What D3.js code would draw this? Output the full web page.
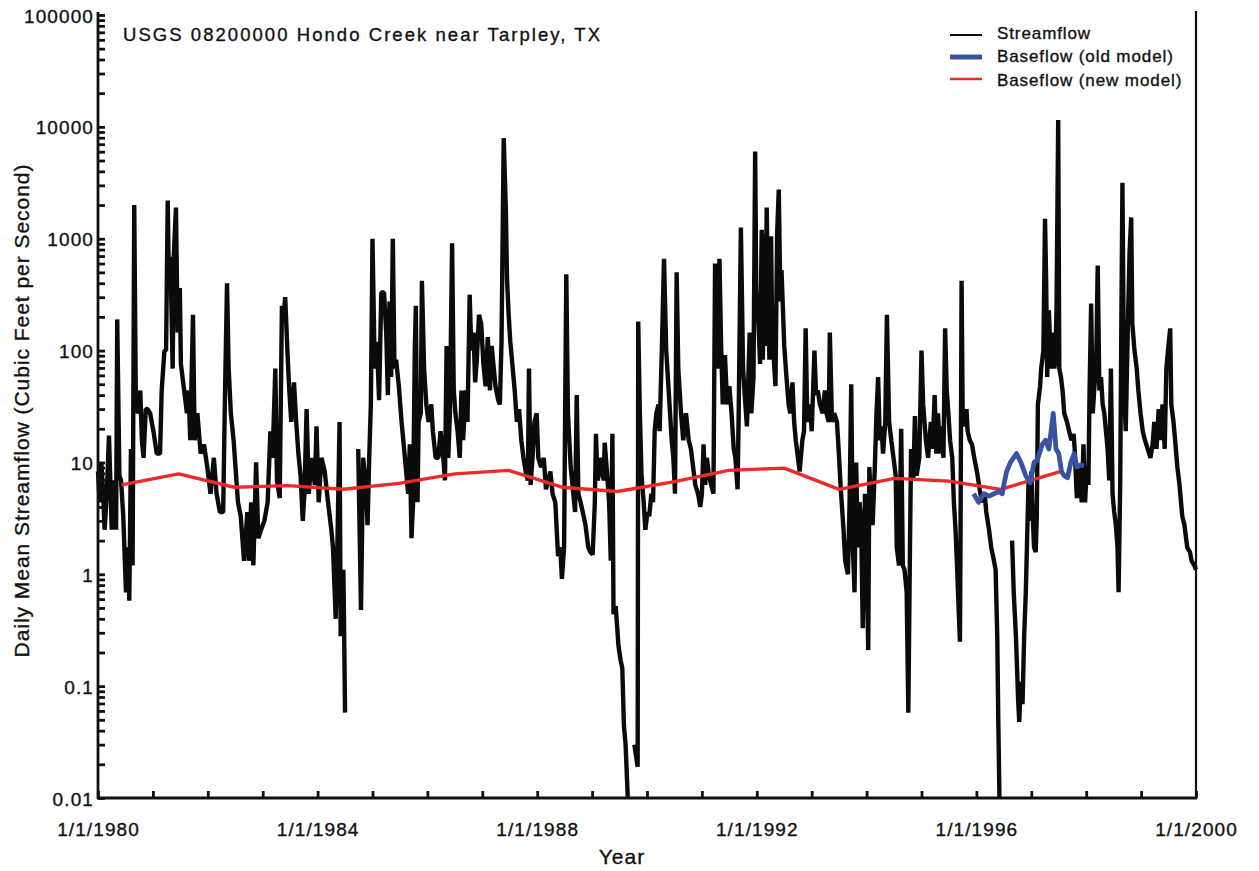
<!DOCTYPE html>
<html>
<head>
<meta charset="utf-8">
<script src="https://cdn.jsdelivr.net/npm/d3@7"></script>
<style>
  html, body { margin: 0; padding: 0; background: #fff; }
  svg { display: block; font-family: "Liberation Sans", Arial, Helvetica, sans-serif; }
  .heavy { stroke: #111; stroke-width: 0.35px; paint-order: stroke; }
</style>
</head>
<body>
<svg id="chart" width="1259" height="871"></svg>
<script>
// ---------------- DATA ----------------
const chartTitle = "USGS 08200000 Hondo Creek near Tarpley, TX";
const xTitle = "Year";
const yTitle = "Daily Mean Streamflow (Cubic Feet per Second)";
const seriesNames = ["Streamflow", "Baseflow (old model)", "Baseflow (new model)"];
const xDomain = [1980, 2000];
const yDomain = [0.01, 100000];
const xTickYears = d3.range(1980, 2001, 1);
const xLabelYears = [1980, 1984, 1988, 1992, 1996, 2000];
const yLabelValues = [0.01, 0.1, 1, 10, 100, 1000, 10000, 100000];

// [decimal year, cfs]; null = no plotted value (zero flow)
const streamflow = [
[1980.00,8.3],[1980.03,4.4],[1980.06,10],[1980.09,5.75],[1980.12,2.5],[1980.16,5.25],[1980.20,17.4],[1980.25,2.5],[1980.29,6.9],[1980.33,2.5],[1980.35,190],[1980.39,7.6],[1980.42,6.9],[1980.46,3.3],[1980.51,0.69],[1980.55,1.74],[1980.57,0.58],[1980.60,13.2],[1980.63,1.2],[1980.66,2000],[1980.69,33],[1980.73,27.5],[1980.77,44],[1980.80,15.8],[1980.83,11],[1980.87,30],[1980.90,30],[1980.95,27.5],
[1981.01,19],[1981.07,12],[1981.13,12],[1981.16,44],[1981.21,100],[1981.24,100],[1981.27,2190],[1981.29,440],[1981.32,690],[1981.36,69],[1981.38,690],[1981.42,1900],[1981.45,145],[1981.49,363],[1981.51,76],[1981.56,48],[1981.62,27.5],[1981.65,44],[1981.68,15.8],[1981.73,209],[1981.76,15.8],[1981.81,27.5],[1981.87,12],[1981.93,14.5],[1981.99,9.1],
[1982.05,5.25],[1982.11,11],[1982.16,5.25],[1982.22,3.6],[1982.28,3.6],[1982.31,33],[1982.35,400],[1982.38,69],[1982.42,27.5],[1982.47,15.8],[1982.51,8.3],[1982.55,4.4],[1982.60,3.3],[1982.66,1.32],[1982.72,3.6],[1982.75,1.32],[1982.79,4.4],[1982.83,1.2],[1982.88,10],[1982.92,2.1],[1982.97,2.5],
[1983.03,3.0],[1983.09,4.4],[1983.14,19],[1983.18,11],[1983.23,69],[1983.26,6.9],[1983.31,4.8],[1983.35,251],[1983.39,229],[1983.41,300],[1983.45,100],[1983.48,48],[1983.52,23],[1983.57,52],[1983.61,23],[1983.65,12],[1983.69,7.6],[1983.73,3.0],[1983.76,5.25],[1983.80,30],[1983.84,5.25],[1983.89,11],[1983.95,6.3],[1983.98,21],
[1984.02,4.4],[1984.07,11],[1984.13,8.3],[1984.19,4.4],[1984.25,2.5],[1984.28,1.74],[1984.33,0.4],[1984.36,1.74],[1984.40,23],[1984.42,0.28],[1984.47,1.1],[1984.50,0.058],[1984.62,null],[1984.74,13.2],[1984.79,0.48],[1984.83,11],[1984.88,6.3],[1984.91,2.75],[1984.94,11],[1984.97,33],
[1985.00,1000],[1985.04,69],[1985.08,120],[1985.12,36],[1985.16,330],[1985.21,330],[1985.25,145],[1985.28,40],[1985.31,275],[1985.34,58],[1985.37,1000],[1985.40,69],[1985.43,83],[1985.48,48],[1985.53,23],[1985.59,11],[1985.65,5.25],[1985.68,14.5],[1985.71,2.1],[1985.74,4.4],[1985.77,100],[1985.79,251],[1985.82,4.4],[1985.84,23],[1985.88,27.5],[1985.90,420],[1985.94,69],[1985.98,33],
[1986.02,23],[1986.07,33],[1986.10,19],[1986.15,11],[1986.20,11],[1986.24,19],[1986.29,11],[1986.32,6.9],[1986.35,110],[1986.38,11],[1986.41,27.5],[1986.45,910],[1986.48,44],[1986.51,27.5],[1986.55,19],[1986.59,11],[1986.62,44],[1986.65,15.8],[1986.70,44],[1986.73,23],[1986.77,316],[1986.80,100],[1986.84,145],[1986.87,52],[1986.90,83],[1986.94,209],[1986.98,174],
[1987.02,76],[1987.06,48],[1987.10,132],[1987.14,44],[1987.17,110],[1987.21,69],[1987.24,48],[1987.29,36],[1987.32,33],[1987.35,120],[1987.39,7940],[1987.43,1740],[1987.45,440],[1987.48,209],[1987.51,120],[1987.54,83],[1987.59,44],[1987.63,23],[1987.67,30],[1987.71,15.8],[1987.75,11],[1987.79,8.3],[1987.83,6.9],[1987.85,69],[1987.88,6.3],[1987.92,12],[1987.95,23],[1987.99,27.5],
[1988.02,11],[1988.07,9.1],[1988.12,11],[1988.16,5.75],[1988.20,6.9],[1988.24,8.3],[1988.28,5.25],[1988.33,4.4],[1988.38,1.45],[1988.42,1.74],[1988.45,0.91],[1988.49,1.74],[1988.51,33],[1988.53,480],[1988.56,27.5],[1988.61,9.1],[1988.65,5.75],[1988.69,3.6],[1988.72,40],[1988.75,5.25],[1988.79,4.4],[1988.83,3.6],[1988.88,2.75],[1988.93,1.74],[1988.97,1.58],
[1989.01,1.5],[1989.05,4.4],[1989.07,18],[1989.10,6.9],[1989.14,8.3],[1989.17,11],[1989.21,6.9],[1989.23,15],[1989.27,8.3],[1989.31,4.4],[1989.34,1.32],[1989.37,18],[1989.39,0.44],[1989.43,0.52],[1989.48,0.23],[1989.52,0.17],[1989.55,0.145],[1989.58,0.044],[1989.61,0.03],[1989.65,0.01],[1989.71,null],[1989.77,0.03],[1989.83,0.019],[1989.84,182],[1989.87,27.5],[1989.90,7.6],[1989.94,4.4],[1989.97,2.5],
[1990.01,3.6],[1990.04,3.3],[1990.08,5.25],[1990.11,4.4],[1990.14,19],[1990.17,27.5],[1990.21,33],[1990.23,19],[1990.27,100],[1990.31,660],[1990.35,100],[1990.39,48],[1990.42,27.5],[1990.45,15.8],[1990.48,11],[1990.51,5.25],[1990.54,500],[1990.57,69],[1990.62,27.5],[1990.66,15.8],[1990.71,27.5],[1990.76,15.8],[1990.80,13.2],[1990.85,8.3],[1990.88,6.3],[1990.93,5.25],[1990.97,4],
[1991.00,5.25],[1991.03,14.5],[1991.06,6.3],[1991.09,11],[1991.13,7.6],[1991.17,6.3],[1991.21,5.25],[1991.24,600],[1991.28,69],[1991.32,660],[1991.35,110],[1991.38,33],[1991.42,91],[1991.46,33],[1991.50,48],[1991.54,27.5],[1991.58,13.2],[1991.61,11],[1991.65,5.75],[1991.67,27.5],[1991.71,1260],[1991.75,69],[1991.78,40],[1991.82,21],[1991.87,145],[1991.90,27.5],[1991.94,58],[1991.97,6030],[1991.99,363],
[1992.03,174],[1992.06,76],[1992.09,1200],[1992.11,83],[1992.14,1100],[1992.16,110],[1992.18,1900],[1992.21,229],[1992.23,83],[1992.26,1050],[1992.28,145],[1992.31,83],[1992.34,48],[1992.37,1100],[1992.40,2750],[1992.43,275],[1992.45,525],[1992.50,110],[1992.54,58],[1992.58,33],[1992.61,27.5],[1992.65,52],[1992.68,23],[1992.71,15.8],[1992.76,10],[1992.78,8.3],[1992.83,15.8],[1992.86,19],[1992.89,158],[1992.92,23],[1992.97,33],
[1993.00,19],[1993.05,100],[1993.08,40],[1993.11,44],[1993.15,33],[1993.20,27.5],[1993.24,44],[1993.27,27.5],[1993.31,23],[1993.33,145],[1993.37,23],[1993.41,27.5],[1993.46,23],[1993.49,13.2],[1993.53,5.75],[1993.58,2.5],[1993.61,1.32],[1993.66,1.0],[1993.69,4.4],[1993.72,50],[1993.75,1.74],[1993.78,0.69],[1993.81,10],[1993.84,1.74],[1993.87,4.4],[1993.90,3.0],[1993.93,0.33],[1993.97,5.25],[1993.99,2.5],
[1994.03,0.21],[1994.05,9.1],[1994.08,4.4],[1994.11,2.75],[1994.15,9.1],[1994.18,27.5],[1994.21,58],[1994.24,15.8],[1994.27,21],[1994.30,12],[1994.34,23],[1994.37,209],[1994.41,23],[1994.45,15.8],[1994.49,11],[1994.53,7.6],[1994.55,1.74],[1994.59,1.2],[1994.63,20],[1994.66,1.2],[1994.69,1.1],[1994.73,0.69],[1994.76,0.058],[1994.79,1.74],[1994.81,13.2],[1994.85,6.9],[1994.88,26],[1994.91,7.6],[1994.96,11],
[1995.00,100],[1995.03,33],[1995.08,15.8],[1995.12,11],[1995.17,23],[1995.20,13.2],[1995.24,40],[1995.27,12],[1995.30,27.5],[1995.34,12],[1995.37,21],[1995.40,11],[1995.43,158],[1995.46,44],[1995.49,27.5],[1995.52,15.8],[1995.56,11],[1995.59,4.4],[1995.62,2.5],[1995.65,1.1],[1995.68,0.44],[1995.70,0.25],[1995.71,1.74],[1995.73,420],[1995.75,27.5],[1995.78,21],[1995.82,30],[1995.84,19],[1995.88,15.8],[1995.92,14.5],[1995.96,11],
[1996.01,8.3],[1996.06,5.75],[1996.10,4.4],[1996.15,5.25],[1996.18,3.6],[1996.23,2.5],[1996.27,1.74],[1996.32,1.32],[1996.35,1.1],[1996.38,0.28],[1996.40,0.044],[1996.42,0.01],[1996.53,null],[1996.65,2.0],[1996.68,0.69],[1996.72,0.28],[1996.76,0.076],[1996.78,0.048],[1996.81,0.11],[1996.84,0.069],[1996.87,0.28],[1996.90,0.69],[1996.93,2.75],[1996.95,6.9],[1996.98,3.0],
[1997.00,8.3],[1997.03,3.0],[1997.05,1.74],[1997.08,1.58],[1997.10,3.3],[1997.12,33],[1997.16,48],[1997.18,69],[1997.22,100],[1997.25,1510],[1997.27,440],[1997.29,58],[1997.32,229],[1997.36,69],[1997.39,145],[1997.42,69],[1997.44,83],[1997.46,251],[1997.49,11500],[1997.51,69],[1997.54,58],[1997.57,44],[1997.60,27.5],[1997.65,23],[1997.69,19],[1997.73,15.8],[1997.77,18],[1997.79,13.2],[1997.83,4.8],[1997.86,9.1],[1997.89,6.3],[1997.92,4.4],[1997.95,14.5],[1997.98,4.4],
[1998.01,9.1],[1998.04,6.3],[1998.06,40],[1998.09,263],[1998.12,27.5],[1998.15,48],[1998.18,69],[1998.21,575],[1998.24,44],[1998.27,58],[1998.30,33],[1998.33,27.5],[1998.36,19],[1998.39,13.2],[1998.42,6.9],[1998.45,69],[1998.48,5.25],[1998.51,3.6],[1998.54,2.75],[1998.57,1.74],[1998.59,0.69],[1998.62,6.9],[1998.64,174],[1998.66,3160],[1998.69,44],[1998.72,19],[1998.76,174],[1998.79,760],[1998.82,1550],[1998.84,174],[1998.88,100],[1998.92,69],[1998.95,44],[1998.99,27.5],
[1999.03,19],[1999.07,15.8],[1999.12,13.2],[1999.17,11],[1999.21,14.5],[1999.24,23],[1999.28,13.2],[1999.32,30],[1999.35,15.8],[1999.39,33],[1999.43,13.2],[1999.46,69],[1999.49,100],[1999.53,158],[1999.55,33],[1999.59,23],[1999.62,15.8],[1999.66,9.1],[1999.70,6.3],[1999.75,3.3],[1999.79,2.75],[1999.84,1.74],[1999.89,1.58],[1999.92,1.32],[1999.97,1.2],[2000.00,1.1]
];

const baseflowOld = [
[1995.95,5.25],[1996.04,4.4],[1996.14,5.25],[1996.23,5.0],[1996.32,5.25],[1996.41,5.5],[1996.47,5.25],[1996.50,6.3],[1996.55,8.3],[1996.62,10],[1996.73,12],[1996.81,10],[1996.90,7.6],[1996.98,6.6],
[1997.05,10],[1997.11,10.5],[1997.20,14.5],[1997.26,15.8],[1997.32,13.2],[1997.40,27.5],[1997.45,13.2],[1997.50,12],[1997.55,8.3],[1997.60,7.6],[1997.66,7.3],[1997.72,10],[1997.78,12],[1997.83,9.1],[1997.90,9.5],[1997.96,9.3]
];

const baseflowNew = [
[1980.43,6.3],[1981.47,7.9],[1982.48,6.0],[1983.45,6.2],[1984.47,5.75],[1985.48,6.5],[1986.50,7.9],[1987.48,8.5],[1988.45,6.0],[1989.46,5.5],[1990.48,6.7],[1991.49,8.5],[1992.50,8.9],[1993.50,5.75],[1994.51,7.2],[1995.50,6.8],[1996.44,5.75],[1997.54,8.3]
];

const colors = { flow: "#0b0b0b", oldBase: "#3a52a4", newBase: "#ed2a2a", axis: "#111" };

// ---------------- CHART ----------------
const svg = d3.select("#chart");
const plot = { left: 98, right: 1196, top: 15, bottom: 798 };

const x = d3.scaleLinear().domain(xDomain).range([plot.left, plot.right]);
const y = d3.scaleLog().domain(yDomain).range([plot.bottom, plot.top]).clamp(true);

// y minor ticks 1..9 per decade
const yTickValues = [];
for (let e = -2; e <= 4; e++) for (let m = 1; m <= 9; m++) yTickValues.push(+(m * Math.pow(10, e)).toPrecision(3));
yTickValues.push(100000);
const fmtY = v => (v < 1 ? String(v) : d3.format("d")(v));

const line = d3.line()
  .defined(d => d[1] !== null)
  .x(d => x(d[0]))
  .y(d => y(d[1]));

// streamflow
svg.append("path").datum(streamflow)
  .attr("d", line).attr("fill", "none")
  .attr("stroke", colors.flow).attr("stroke-width", 4.4).attr("stroke-linejoin", "bevel");

// baseflow new (red)
svg.append("path").datum(baseflowNew)
  .attr("d", line).attr("fill", "none")
  .attr("stroke", colors.newBase).attr("stroke-width", 3.4).attr("stroke-linejoin", "round");

// baseflow old (blue)
svg.append("path").datum(baseflowOld)
  .attr("d", line).attr("fill", "none")
  .attr("stroke", colors.oldBase).attr("stroke-width", 4.8).attr("stroke-linejoin", "round");

// right border line
svg.append("line")
  .attr("x1", x(xDomain[1])).attr("x2", x(xDomain[1]))
  .attr("y1", plot.top - 4).attr("y2", plot.bottom)
  .attr("stroke", colors.axis).attr("stroke-width", 2.2);

// y axis
const yAxis = d3.axisLeft(y)
  .tickValues(yTickValues)
  .tickSize(-7).tickSizeOuter(0).tickPadding(5)
  .tickFormat(v => yLabelValues.some(l => Math.abs(l - v) / l < 1e-6) ? fmtY(v) : "");
const gy = svg.append("g").attr("transform", `translate(${plot.left},0)`).call(yAxis);
gy.select(".domain").attr("stroke", colors.axis).attr("stroke-width", 2.8)
  .attr("d", `M0,${plot.bottom + 1}V${plot.top - 3}`);
gy.selectAll(".tick line").attr("stroke", colors.axis).attr("stroke-width", 2.8);
gy.selectAll(".tick text")
  .attr("class", "heavy")
  .attr("fill", "#111").style("font-size", "19px").style("letter-spacing", "1.1px")
  .attr("x", -4).attr("dy", "0.37em");

// x axis
const xAxis = d3.axisBottom(x)
  .tickValues(xTickYears)
  .tickSize(-7).tickSizeOuter(0).tickPadding(25)
  .tickFormat(v => xLabelYears.includes(v) ? `1/1/${v}` : "");
const gx = svg.append("g").attr("transform", `translate(0,${plot.bottom})`).call(xAxis);
gx.select(".domain").attr("stroke", colors.axis).attr("stroke-width", 2.8)
  .attr("d", `M${plot.left - 1},0H${plot.right + 1}`);
gx.selectAll(".tick line").attr("stroke", colors.axis).attr("stroke-width", 2.8);
gx.selectAll(".tick text")
  .attr("class", "heavy")
  .attr("fill", "#111").style("font-size", "19px").style("letter-spacing", "1.1px");

// titles
svg.append("text").text(chartTitle)
  .attr("class", "heavy")
  .attr("x", 123).attr("y", 41)
  .attr("textLength", 477).attr("lengthAdjust", "spacing")
  .style("font-size", "18.5px").attr("fill", "#111");

svg.append("text").text(xTitle)
  .attr("class", "heavy")
  .attr("x", 622).attr("y", 864).attr("text-anchor", "middle")
  .style("font-size", "21px").style("letter-spacing", "1px").attr("fill", "#111");

svg.append("text").text(yTitle)
  .attr("class", "heavy")
  .attr("transform", "translate(29,411) rotate(-90)")
  .attr("text-anchor", "middle")
  .attr("textLength", 493).attr("lengthAdjust", "spacing")
  .style("font-size", "21px").attr("fill", "#111");

// legend
const legendItems = [
  { name: seriesNames[0], color: colors.flow, width: 2, ly: 35, ty: 39 },
  { name: seriesNames[1], color: colors.oldBase, width: 5, ly: 57, ty: 62 },
  { name: seriesNames[2], color: colors.newBase, width: 2.5, ly: 79, ty: 85.5 }
];
const lg = svg.append("g");
legendItems.forEach(it => {
  lg.append("line").attr("x1", 950).attr("x2", 982).attr("y1", it.ly).attr("y2", it.ly)
    .attr("stroke", it.color).attr("stroke-width", it.width);
  lg.append("text").text(it.name).attr("x", 997).attr("y", it.ty)
    .attr("class", "heavy")
    .style("font-size", "17px").style("letter-spacing", "0.9px").attr("fill", "#111");
});
</script>
</body>
</html>
